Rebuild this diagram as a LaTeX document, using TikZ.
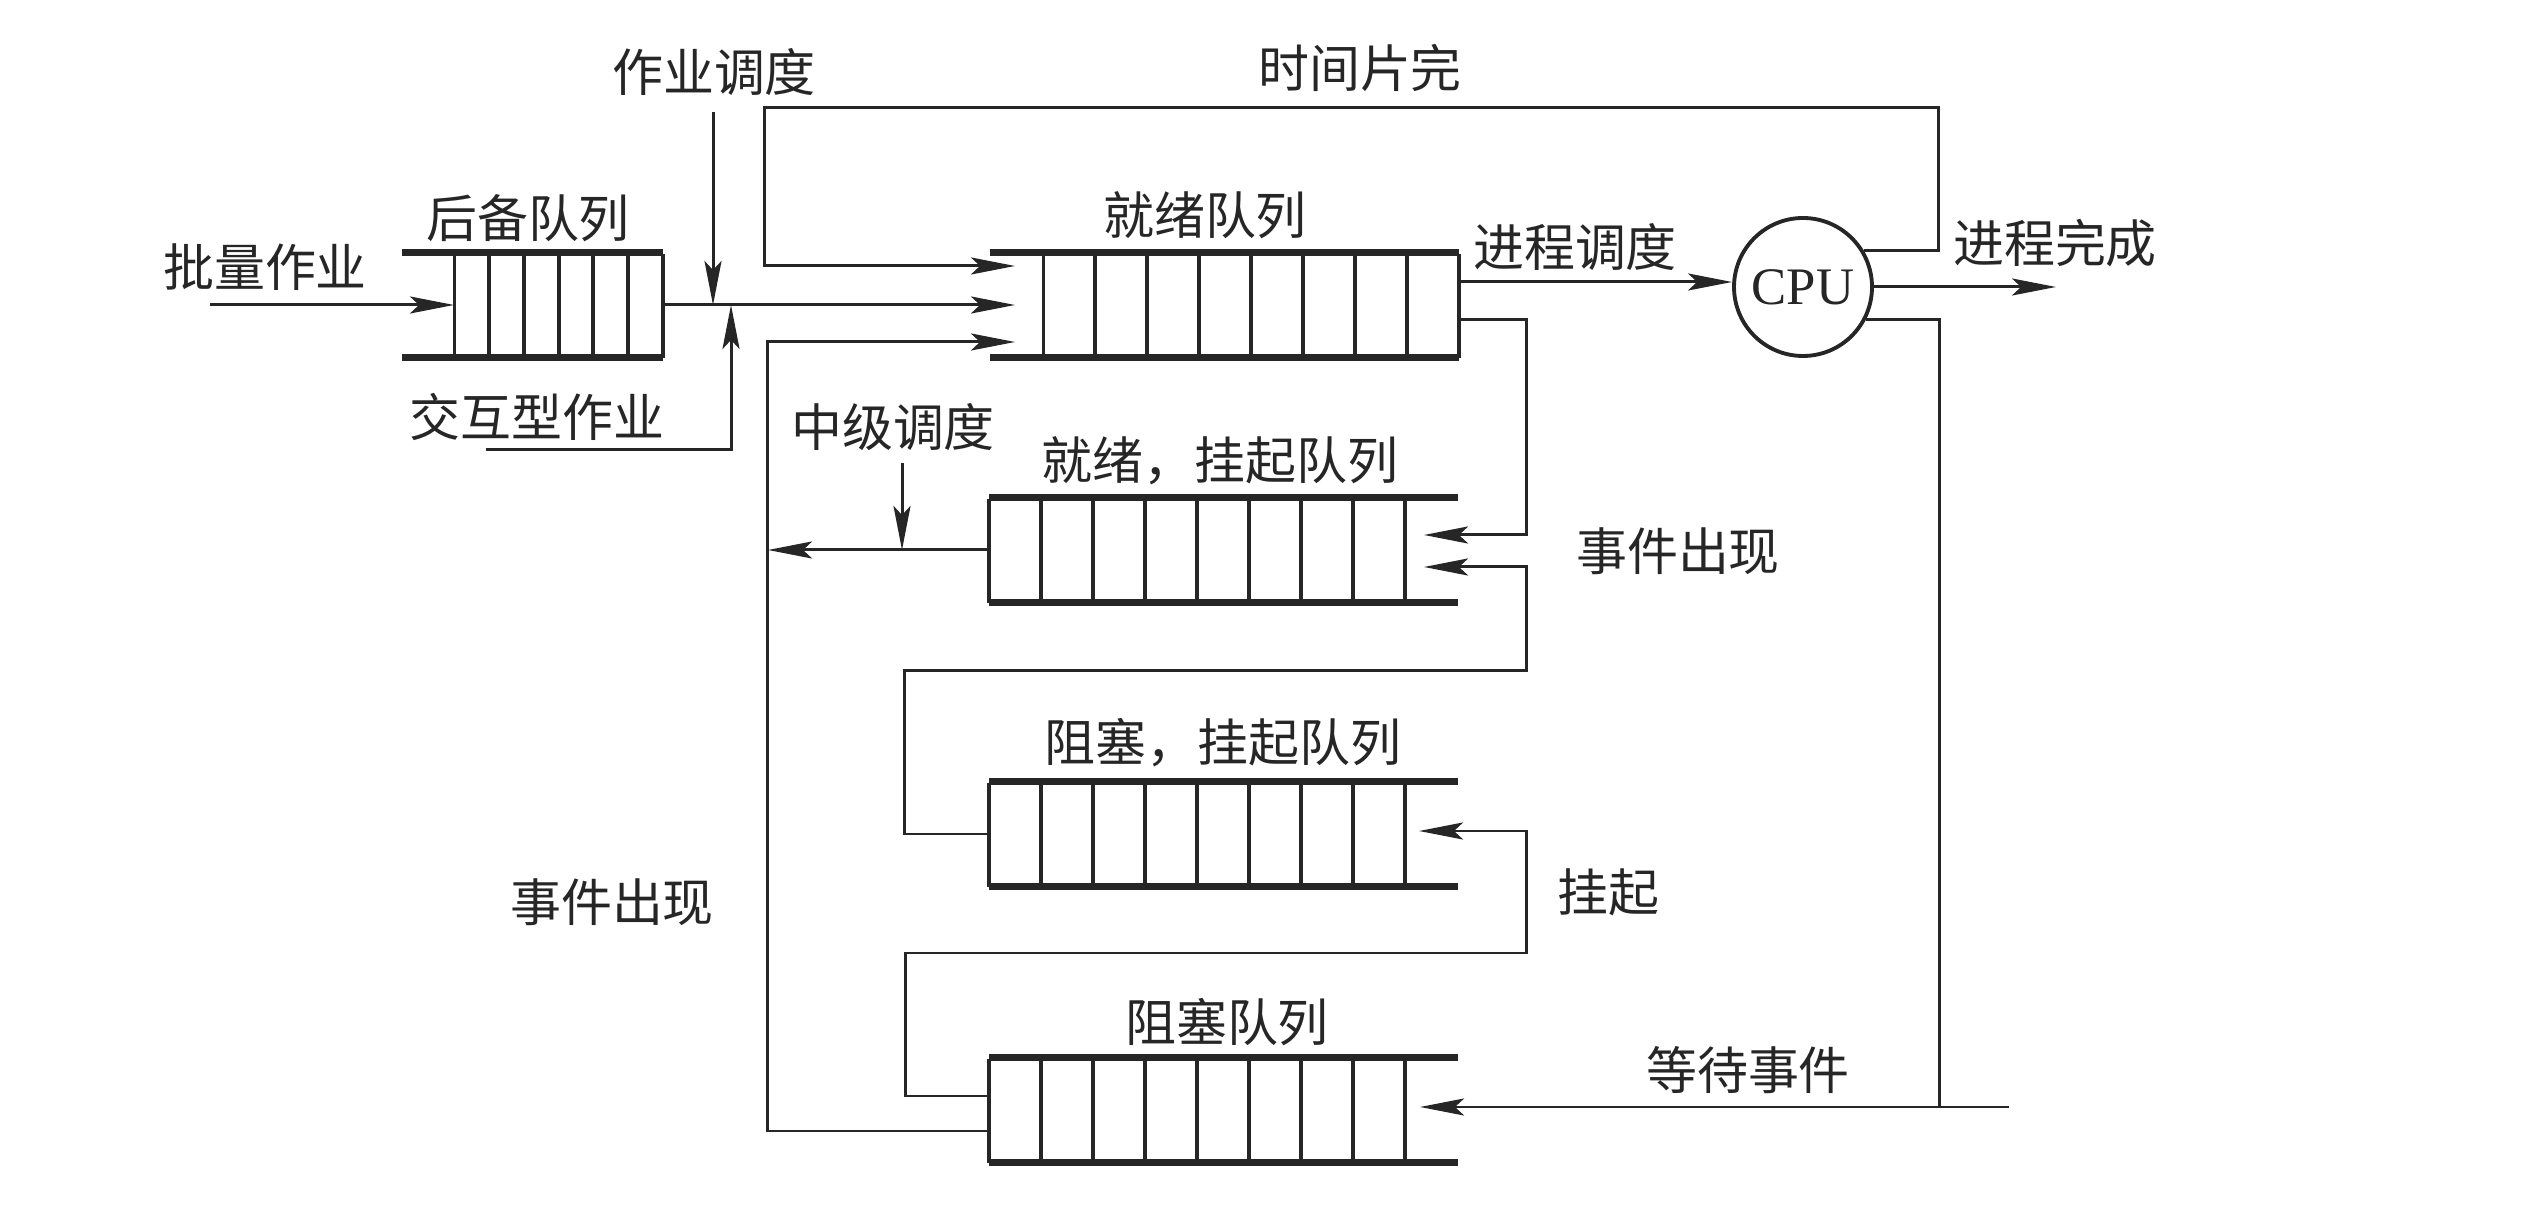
\documentclass[tikz,border=0pt]{standalone}
\usepackage{fontspec}
\setmainfont{Liberation Serif}
\newfontfamily\cjk{Noto Sans CJK SC}
\usetikzlibrary{arrows.meta,calc}

\begin{document}
\begin{tikzpicture}[
  line/.style={line width=0.85pt, draw=black!85},
  flow/.style={line, -{Stealth[length=4.4mm, width=1.7mm, inset=0.9mm]}},
  rail/.style={line width=1.9pt, draw=black!85},
  cell/.style={line width=1.1pt, draw=black!85},
  queue/.style={rectangle, draw=none, minimum height=1.04cm, inner sep=0pt},
  label/.style={font=\cjk\fontsize{14.5}{17}\selectfont, text=black!85, inner sep=0pt},
  cpu/.style={circle, draw=black!85, line width=1.1pt, minimum size=1.38cm,
    inner sep=0pt, font=\fontsize{15}{18}\selectfont, text=black!85},
]
\useasboundingbox (0,0) rectangle (25.32,12.24);

% Queues
\node[queue, minimum width=2.59cm] (bq) at (5.325,9.19) {};
\node[queue, minimum width=4.67cm] (rq) at (12.245,9.19) {};
\node[queue, minimum width=4.67cm] (rsq) at (12.235,6.74) {};
\node[queue, minimum width=4.67cm] (bsq) at (12.235,3.90) {};
\node[queue, minimum width=4.67cm] (blq) at (12.235,1.14) {};
\foreach \q in {bq,rq,rsq,bsq,blq} {
  \draw[rail] (\q.north west) -- (\q.north east);
  \draw[rail] (\q.south west) -- (\q.south east);
}
\foreach \i in {0,...,6} {
  \draw[cell] ($(bq.south east)+(-\i*0.347,0)$) -- ++(0,1.04);
}
\foreach \i in {0,...,8} {
  \draw[cell] ($(rq.south east)+(-\i*0.519,0)$) -- ++(0,1.04);
}
\foreach \q in {rsq,bsq,blq} {
  \foreach \i in {0,...,8} {
    \draw[cell] ($(\q.south west)+(\i*0.52,0)$) -- ++(0,1.04);
  }
}

% CPU
\node[cpu] (cpu) at (18.03,9.37) {CPU};

% Labels
\node[label] (l-js) at (7.14,11.52) {作业调度};
\node[label] (l-ts) at (13.60,11.56) {时间片完};
\node[label] (l-bq) at (5.28,10.06) {后备队列};
\node[label] (l-batch) at (2.65,9.57) {批量作业};
\node[label] (l-inter) at (5.37,8.07) {交互型作业};
\node[label] (l-rq) at (12.05,10.09) {就绪队列};
\node[label] (l-ps) at (15.75,9.77) {进程调度};
\node[label] (l-done) at (20.55,9.81) {进程完成};
\node[label] (l-ms) at (8.93,7.97) {中级调度};
\node[label] (l-rsq) at (12.20,7.63) {就绪，挂起队列};
\node[label] (l-ev1) at (16.78,6.73) {事件出现};
\node[label] (l-bsq) at (12.23,4.81) {阻塞，挂起队列};
\node[label] (l-susp) at (16.08,3.32) {挂起};
\node[label] (l-ev2) at (6.12,3.22) {事件出现};
\node[label] (l-blq) at (12.27,2.02) {阻塞队列};
\node[label] (l-wait) at (17.48,1.54) {等待事件};

% Entry points
\coordinate (batch) at (2.10,9.19);
\coordinate (bq-in) at (4.54,9.19);
\coordinate (js-top) at (7.13,11.12);
\coordinate (inter) at (4.86,7.74);
\coordinate (rq-in1) at (10.15,9.58);
\coordinate (rq-in2) at (10.15,9.19);
\coordinate (rq-in3) at (10.15,8.82);
\coordinate (rs-in1) at (14.24,6.89);
\coordinate (rs-in2) at (14.24,6.57);
\coordinate (bs-in) at (14.19,3.93);
\coordinate (bl-in) at (14.20,1.17);

% Job scheduling
\draw[flow] (batch) -- (bq-in);
\draw[flow] (bq.east) -- (rq-in2);
\draw[flow] (js-top) -- (js-top |- bq.east);
\draw[flow] (inter) -| (7.31,9.19);

% Time slice
\coordinate (ts-r) at (19.38,11.16);
\coordinate (ts-l) at (7.64,11.16);
\draw[flow] (cpu.31) -| (ts-r) -- (ts-l) |- (rq-in1);

% Process scheduling
\coordinate (rq-out) at (14.58,9.42);
\coordinate (done) at (20.56,9.37);
\draw[flow] (rq-out) -- (rq-out -| cpu.west);
\draw[flow] (cpu.east) -- (done);

% Waiting
\coordinate (wait-r) at (20.09,1.17);
\draw[line] (cpu.-27) -| (19.39,1.17);
\draw[flow] (wait-r) -- (bl-in);

% Event occurs, back to ready
\coordinate (ev-l) at (7.67,0.93);
\draw[flow] (ev-l -| blq.west) -- (ev-l) |- (rq-in3);

% Mid-term scheduling
\coordinate (ms-l) at (7.68,6.74);
\coordinate (ms-top) at (9.02,7.61);
\draw[flow] (rsq.west) -- (ms-l);
\draw[flow] (ms-top) -- (ms-top |- ms-l);

% Suspend / activate
\coordinate (rq-out2) at (14.58,9.04);
\coordinate (bl-out) at (9.90,1.28);
\draw[flow] (rq-out2) -| (15.26,6.89) -- (rs-in1);
\draw[flow] (bsq.west) -| (9.04,5.53) -| (15.26,6.57) -- (rs-in2);
\draw[flow] (bl-out) -| (9.05,2.71) -| (15.26,3.93) -- (bs-in);

\end{tikzpicture}
\end{document}
